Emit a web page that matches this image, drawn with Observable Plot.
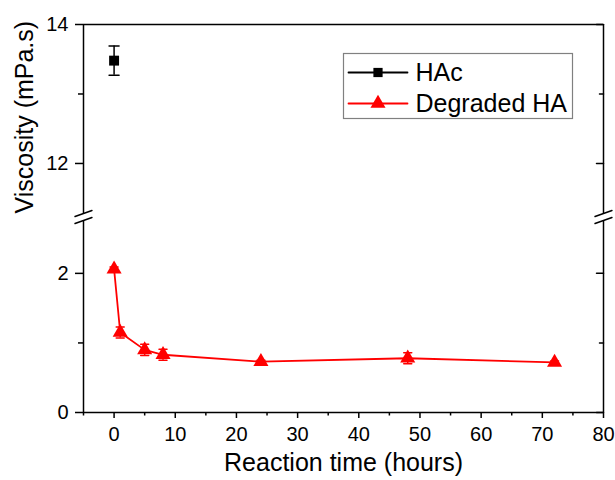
<!DOCTYPE html>
<html><head><meta charset="utf-8">
<script src="https://cdn.jsdelivr.net/npm/d3@7"></script>
<script src="https://cdn.jsdelivr.net/npm/@observablehq/plot@0.6"></script>
<style>body{margin:0;background:#fff}</style>
</head><body><div id="chart"></div>
<script>
// ---- data ----
const hacTime = [0];
const hacViscosity = [13.48];
const hacError = [0.21];
const haTime = [0, 1, 5, 8, 24, 48, 72];
const haViscosity = [2.06, 1.15, 0.90, 0.83, 0.73, 0.78, 0.72];
const haError = [0.03, 0.08, 0.08, 0.08, 0.02, 0.08, 0.02];
const xMajorTicks = [0, 10, 20, 30, 40, 50, 60, 70, 80];
const xMinorTicks = [-5, 5, 15, 25, 35, 45, 55, 65, 75];
const yMajorTicks = [0, 2, 12, 14];
const yMinorTicks = [1, 13];
const xDomain = [-5, 80];
const yLower = [0, 2.76];   // lower segment of broken axis
const yUpper = [11.28, 14]; // upper segment of broken axis
const seriesNames = ["HAc", "Degraded HA"];
const seriesColors = ["#000000", "#ff0000"];
const seriesSymbols = ["square", "triangle"];

const hac = hacTime.map((t, i) => ({t, v: hacViscosity[i], e: hacError[i]}));
const ha = haTime.map((t, i) => ({t, v: haViscosity[i], e: haError[i]}));

const lineShape = {draw(context, l) { context.moveTo(0, 0); context.lineTo(0, -l); }};
const font = "Liberation Sans, Arial, sans-serif";

function errorMarks(data, color, capLen) {
  return [
    Plot.ruleX(data, {x: "t", y1: d => d.v - d.e, y2: d => d.v + d.e, stroke: color, strokeWidth: 1.5}),
    Plot.vector(data, {x: "t", y: d => d.v - d.e, length: capLen, rotate: 90, anchor: "middle", shape: lineShape, stroke: color, strokeWidth: 1.5}),
    Plot.vector(data, {x: "t", y: d => d.v + d.e, length: capLen, rotate: 90, anchor: "middle", shape: lineShape, stroke: color, strokeWidth: 1.5})
  ];
}

const segments = [
  {y1: yLower[0], y2: yLower[1]},
  {y1: yUpper[0], y2: yUpper[1]}
];
const breaks = [];
for (const x of xDomain) for (const y of [yLower[1], yUpper[0]]) breaks.push({x, y});

const legendMarks = [];
seriesNames.forEach((name, i) => {
  const dy = 48 + i * 31;
  legendMarks.push(
    Plot.vector([name], {frameAnchor: "top-left", dx: 265, dy, length: 59, rotate: 90, anchor: "start", shape: lineShape, stroke: seriesColors[i], strokeWidth: 1.8}),
    Plot.dot([name], {frameAnchor: "top-left", dx: 294.5, dy, symbol: seriesSymbols[i], r: i === 0 ? 5.2 : 5.6, fill: seriesColors[i], stroke: "none"}),
    Plot.text([name], {frameAnchor: "top-left", dx: 332, dy, text: d => d, textAnchor: "start", lineAnchor: "middle", fontSize: 25, fill: "#000"})
  );
});

const chart = Plot.plot({
  width: 615,
  height: 480,
  marginLeft: 83,
  marginRight: 12,
  marginTop: 24,
  marginBottom: 68,
  style: {fontFamily: font, fontSize: "20px", color: "#000", background: "#fff"},
  x: {domain: xDomain},
  y: {type: "linear", domain: [yLower[0], yLower[1], yUpper[0], yUpper[1]], range: [412, 220, 213, 24]},
  marks: [
    // frame
    Plot.ruleY([yLower[0], yUpper[1]], {stroke: "#000", strokeWidth: 1.5}),
    Plot.ruleX(segments, {x: xDomain[0], y1: "y1", y2: "y2", stroke: "#000", strokeWidth: 1.5}),
    Plot.ruleX(segments, {x: xDomain[1], y1: "y1", y2: "y2", stroke: "#000", strokeWidth: 1.5}),
    Plot.vector(breaks, {x: "x", y: "y", length: 18, rotate: 70, anchor: "middle", shape: lineShape, stroke: "#000", strokeWidth: 1.5}),
    // axes
    Plot.axisY(yMajorTicks, {anchor: "left", tickSize: 8, tickPadding: 7, strokeWidth: 1.5, label: null, fontSize: 20}),
    Plot.axisY(yMinorTicks, {anchor: "left", tickSize: 5, strokeWidth: 1.5, text: null, label: null}),
    Plot.vector(yMajorTicks, {x: xDomain[1], y: d => d, length: 7, rotate: -90, anchor: "start", shape: lineShape, stroke: "#000", strokeWidth: 1.5}),
    Plot.vector(yMinorTicks, {x: xDomain[1], y: d => d, length: 4, rotate: -90, anchor: "start", shape: lineShape, stroke: "#000", strokeWidth: 1.5}),
    Plot.axisX(xMajorTicks, {anchor: "bottom", tickSize: 6, tickPadding: 8, strokeWidth: 1.5, label: null, fontSize: 20}),
    Plot.axisX(xMinorTicks, {anchor: "bottom", tickSize: 3.5, strokeWidth: 1.5, text: null, label: null}),
    // titles
    Plot.text(["Viscosity (mPa.s)"], {frameAnchor: "left", dx: -59, dy: -5, rotate: -90, text: d => d, fontSize: 25, lineAnchor: "middle", fill: "#000"}),
    Plot.text(["Reaction time (hours)"], {frameAnchor: "bottom", dy: 50, text: d => d, fontSize: 25, lineAnchor: "middle", fill: "#000"}),
    // HAc
    ...errorMarks(hac, seriesColors[0], 10),
    Plot.line(hac, {x: "t", y: "v", stroke: seriesColors[0], strokeWidth: 1.8}),
    Plot.dot(hac, {x: "t", y: "v", symbol: seriesSymbols[0], r: 5.6, fill: seriesColors[0], stroke: "none"}),
    // Degraded HA
    ...errorMarks(ha, seriesColors[1], 8),
    Plot.line(ha, {x: "t", y: "v", stroke: seriesColors[1], strokeWidth: 1.8}),
    Plot.dot(ha, {x: "t", y: "v", symbol: seriesSymbols[1], r: 5.6, fill: seriesColors[1], stroke: "none"}),
    // legend
    Plot.frame({insetLeft: 260, insetTop: 29, insetRight: 31, insetBottom: 294, stroke: "#808080", strokeWidth: 1.2}),
    ...legendMarks
  ]
});
document.getElementById("chart").append(chart);
</script>
</body></html>
